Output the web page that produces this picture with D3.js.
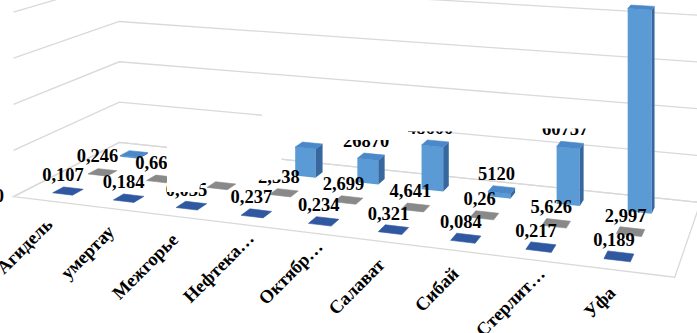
<!DOCTYPE html>
<html><head><meta charset="utf-8">
<script src="https://cdn.jsdelivr.net/npm/d3@7"></script>
<style>html,body{margin:0;padding:0;background:#fff;overflow:hidden}</style>
</head><body>
<svg id="c" width="697" height="333"></svg>
<script>
// ---------- data ----------
const categories = ["Агидель","Кумертау","Межгорье","Нефтекамск","Октябрьский","Салават","Сибай","Стерлитамак","Уфа"];
const categoryLabels = ["Агидель","Кумертау","Межгорье","Нефтека…","Октябр…","Салават","Сибай","Стерлит…","Уфа"];
const seriesNames = ["Ряд1","Ряд2","Ряд3"];
const series1 = [0.107,0.184,0.035,0.237,0.234,0.321,0.084,0.217,0.189];
const series2 = [0.246,0.662,0.5,2.538,2.699,4.641,0.26,5.626,2.997];
const series3 = [1500,2000,3000,32500,26870,48600,5120,60757,212500];
const series3LabelShown = [false,false,false,true,true,true,true,true,false];
const yTicks = [0,50000,100000,150000,200000];
const yTickLabels = ["0"];

// ---------- perspective projection ----------
const VPX = [-3500,-232], VPZ = [850,-232], ORIGIN = [68,191];
const ALPHA = -0.01672, BETA = 0.0461, HORIZON = -232;
const uScale = d3.scalePoint().domain(categories).range([0,8]);
const wScale = d3.scalePoint().domain(seriesNames).range([0,2]);
const hScale = d3.scaleLinear().domain([0,50000]).range([0,1/9.29]);

function P(u,w,v){
  const d = 1 + ALPHA*u + BETA*w;
  const x = (ORIGIN[0] + ALPHA*u*VPX[0] + BETA*w*VPZ[0]) / d;
  const yf = (ORIGIN[1] + ALPHA*u*VPX[1] + BETA*w*VPZ[1]) / d;
  return [x, yf - (yf - HORIZON)*hScale(v)];
}
const poly = pts => "M" + pts.map(p => p[0].toFixed(2)+","+p[1].toFixed(2)).join("L") + "Z";
const line = d3.line();

const svg = d3.select("#c");
const uL = -0.6, uR = 8.75, wF = -0.5, wB = 2.6;
const FONT = "'Liberation Serif','Times New Roman',serif";

// floor
svg.append("path")
  .attr("d", poly([P(uL,wF,0),P(uR,wF,0),P(uR,wB,0),P(uL,wB,0)]))
  .attr("fill","#fff").attr("stroke","#d9d9d9").attr("stroke-width",1.3);

// wall gridlines
svg.append("g").selectAll("path").data(yTicks).join("path")
  .attr("d", t => line([P(uL,wF,t),P(uL,wB,t),P(uR,wB,t)]))
  .attr("fill","none").attr("stroke","#d9d9d9").attr("stroke-width",1.3);

// bars
const palette = [
  {top:"#2f58a0", front:"#244a87", side:"#1e3f74"},
  {top:"#898989", front:"#707070", side:"#5e5e5e"},
  {top:"#4a88c9", front:"#5b9bd5", side:"#36679e"}
];
const allSeries = [series1, series2, series3];
const bars = [];
allSeries.forEach((vals, si) => vals.forEach((v, ci) => bars.push({
  u: uScale(categories[ci]), w: wScale(seriesNames[si]), v, si, ci
})));
bars.sort((a,b) => (b.w - a.w) || (a.u - b.u));
const A = 0.165, B = 0.15;
const gb = svg.append("g");
bars.forEach(b => {
  const c = palette[b.si];
  const g = gb.append("g");
  g.append("path").attr("d", poly([P(b.u-A,b.w-B,0),P(b.u+A,b.w-B,0),P(b.u+A,b.w-B,b.v),P(b.u-A,b.w-B,b.v)]))
    .attr("fill", c.front);
  g.append("path").attr("d", poly([P(b.u+A,b.w-B,0),P(b.u+A,b.w+B,0),P(b.u+A,b.w+B,b.v),P(b.u+A,b.w-B,b.v)]))
    .attr("fill", c.side);
  g.append("path").attr("d", poly([P(b.u-A,b.w-B,b.v),P(b.u+A,b.w-B,b.v),P(b.u+A,b.w+B,b.v),P(b.u-A,b.w+B,b.v)]))
    .attr("fill", c.top).attr("stroke", c.top).attr("stroke-width",0.6);
});

// category labels
const gc = svg.append("g").attr("font-family",FONT).attr("font-weight","bold").attr("font-size","18.5px");
categories.forEach((cat, i) => {
  const p = P(uScale(cat), wF, 0);
  const lab = categoryLabels[i];
  const shift = lab.endsWith("…") ? 9.5 : 0;
  const t = gc.append("text").attr("text-anchor","end")
    .attr("transform", `translate(${p[0]+4+shift},${p[1]+24.5-shift}) rotate(-45)`);
  if (i === 1) {
    t.append("tspan").attr("fill","#fff").text(lab.slice(0,1));
    t.append("tspan").attr("fill","#000").text(lab.slice(1));
  } else t.text(lab);
});

// data labels
const fmt = v => String(v).replace(".", ",");
const gl = svg.append("g").attr("font-family",FONT).attr("font-weight","bold").attr("font-size","18.5px").attr("text-anchor","middle");
allSeries.forEach((vals, si) => vals.forEach((v, ci) => {
  if (si === 2 && !series3LabelShown[ci]) return;
  const p = P(uScale(categories[ci]), wScale(seriesNames[si]), v);
  gl.append("text").attr("x", p[0]-5).attr("y", p[1]-10).text(fmt(v));
}));

// white areas that cover parts of the reference picture
svg.append("path").attr("fill","#fff")
  .attr("d","M262,104L612,104L612,128.5L540,128.5L540,131.5L408,131.5L408,140L262,140Z");
svg.append("path").attr("fill","#fff")
  .attr("d","M167,134L281.5,134L281.5,179.5L207,180.5L200,185L198.5,192L167,192Z");

// value axis label
const p0 = P(uL, wF, 0);
svg.append("g").attr("font-family",FONT).attr("font-weight","bold").attr("font-size","18.5px")
  .selectAll("text").data(yTickLabels).join("text")
  .attr("text-anchor","end").attr("x", p0[0]-9.5).attr("y", (d,i) => P(uL,wF,yTicks[i])[1]+5).text(d => d);
</script>
</body></html>
